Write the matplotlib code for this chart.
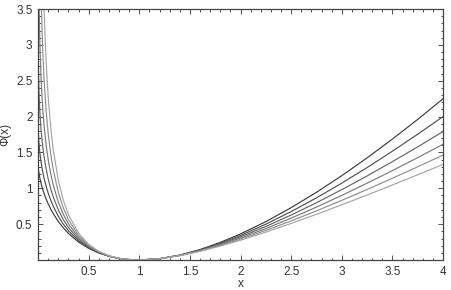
import numpy as np
import matplotlib
matplotlib.use("Agg")
import matplotlib.pyplot as plt
from matplotlib.ticker import MultipleLocator, FixedLocator

plt.rcParams['font.family'] = ['Liberation Sans', 'DejaVu Sans']

# x positions read along the axis
x = [0, 0.003, 0.006, 0.01, 0.015, 0.02, 0.03, 0.04, 0.05, 0.06, 0.08, 0.1,
     0.125, 0.15, 0.2, 0.25, 0.3, 0.4, 0.5, 0.6, 0.7, 0.8, 0.9, 1.0,
     1.2, 1.4, 1.6, 1.8, 2.0, 2.25, 2.5, 2.75, 3.0, 3.25, 3.5, 3.75, 4.0]

# six curves, darkest (steepest on the right) first
phi_1 = [1.333, 1.277, 1.242, 1.205, 1.165, 1.130, 1.069, 1.016, 0.969, 0.927, 0.851, 0.785,
         0.712, 0.648, 0.538, 0.448, 0.371, 0.251, 0.162, 0.0974, 0.0518, 0.0219, 0.0052, 0.0,
         0.0185, 0.0691, 0.146, 0.245, 0.364, 0.535, 0.730, 0.944, 1.176, 1.424, 1.686, 1.961, 2.248]
phi_2 = [2.0, 1.787, 1.702, 1.62, 1.540, 1.474, 1.367, 1.28, 1.206, 1.140, 1.029, 0.935,
         0.836, 0.751, 0.611, 0.5, 0.409, 0.270, 0.172, 0.1016, 0.0534, 0.0223, 0.0053, 0.0,
         0.0182, 0.0671, 0.140, 0.233, 0.343, 0.5, 0.675, 0.867, 1.072, 1.289, 1.517, 1.754, 2.0]
phi_3 = [4.0, 2.756, 2.524, 2.327, 2.153, 2.021, 1.820, 1.668, 1.545, 1.440, 1.270, 1.134,
         0.996, 0.881, 0.700, 0.562, 0.453, 0.292, 0.182, 0.1061, 0.0550, 0.0227, 0.0053, 0.0,
         0.0180, 0.0653, 0.135, 0.2225, 0.324, 0.468, 0.627, 0.799, 0.981, 1.172, 1.372, 1.578, 1.791]
phi_4 = [np.nan, 4.812, 4.122, 3.615, 3.215, 2.932, 2.537, 2.259, 2.046, 1.873, 1.606, 1.403,
         1.204, 1.047, 0.809, 0.636, 0.504, 0.316, 0.193, 0.1108, 0.0567, 0.0231, 0.0054, 0.0,
         0.0177, 0.0635, 0.130, 0.212, 0.307, 0.439, 0.584, 0.738, 0.901, 1.071, 1.247, 1.428, 1.614]
phi_5 = [np.nan, 9.676, 7.502, 6.127, 5.154, 4.525, 3.713, 3.188, 2.807, 2.514, 2.081, 1.771,
         1.482, 1.262, 0.945, 0.726, 0.564, 0.344, 0.206, 0.1159, 0.0584, 0.0236, 0.0054, 0.0,
         0.0174, 0.0618, 0.125, 0.203, 0.291, 0.413, 0.545, 0.685, 0.832, 0.983, 1.140, 1.300, 1.463]
phi_6 = [np.nan, 22.34, 15.22, 11.34, 8.897, 7.441, 5.718, 4.693, 3.996, 3.483, 2.767, 2.283,
         1.855, 1.543, 1.115, 0.833, 0.634, 0.375, 0.219, 0.1213, 0.0603, 0.0240, 0.0055, 0.0,
         0.0172, 0.0602, 0.121, 0.194, 0.276, 0.389, 0.510, 0.637, 0.770, 0.906, 1.046, 1.189, 1.333]

curves = [phi_1, phi_2, phi_3, phi_4, phi_5, phi_6]
shades = ['#3c3c3c', '#505050', '#656565', '#7a7a7a', '#8f8f8f', '#a5a5a5']

fig = plt.figure(figsize=(4.51, 2.90), dpi=100)
ax = fig.add_axes([0.0843, 0.1034, 0.898, 0.8655])

for y, c in zip(curves, shades):
    ax.plot(x, y, color=c, lw=0.85)

ax.set_xlim(0, 4)
ax.set_ylim(0, 3.5)
ax.xaxis.set_major_locator(FixedLocator([0.5, 1, 1.5, 2, 2.5, 3, 3.5, 4]))
ax.yaxis.set_major_locator(FixedLocator([0.5, 1, 1.5, 2, 2.5, 3, 3.5]))
ax.xaxis.set_minor_locator(MultipleLocator(0.1))
ax.yaxis.set_minor_locator(MultipleLocator(0.1))
ax.set_xticklabels(['0.5', '1', '1.5', '2', '2.5', '3', '3.5', '4'])
ax.set_yticklabels(['0.5', '1', '1.5', '2', '2.5', '3', '3.5'])
ax.tick_params(which='both', direction='in', top=True, right=True,
               labelsize=8.5, colors='#333333', width=0.6)
ax.tick_params(which='major', length=3.5, pad=4)
ax.tick_params(which='minor', length=1.8)
for s in ax.spines.values():
    s.set_color('#444444')
    s.set_linewidth(0.9)

ax.set_xlabel('x', fontsize=8.5, color='#333333', labelpad=0)
ax.set_ylabel('Φ(x)', fontsize=8.5, color='#333333', labelpad=3)

fig.savefig('out.png', dpi=100)
